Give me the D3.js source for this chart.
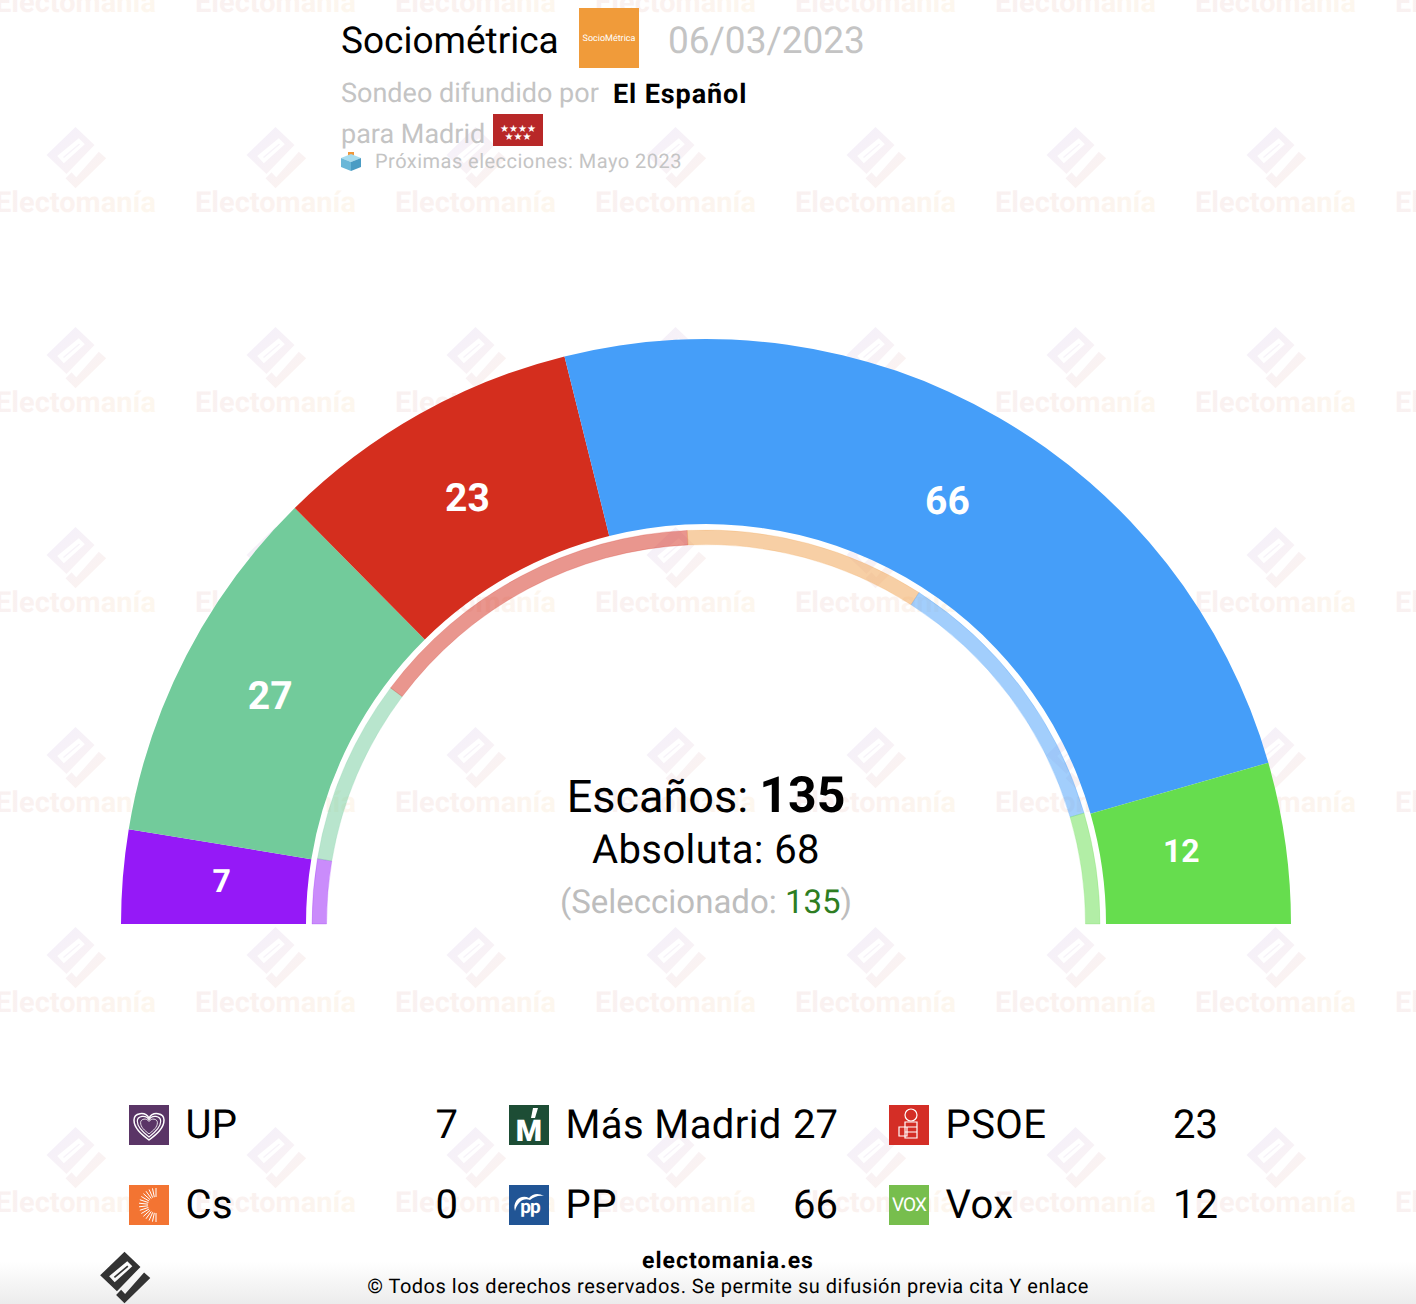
<!DOCTYPE html>
<html lang="es">
<head>
<meta charset="utf-8">
<title>Sociométrica 06/03/2023</title>
<script src="https://cdn.jsdelivr.net/npm/d3@7"></script>
<style>
  html, body { margin: 0; padding: 0; background: #fff; }
  svg { display: block; }
  text { font-family: Roboto, sans-serif; text-rendering: geometricPrecision; }
</style>
</head>
<body>
<div id="chart"></div>
<script>
// Seats in the poll (Cs gets none, so it only shows in the legend)
const parties = ["UP", "Más Madrid", "PSOE", "Cs", "PP", "Vox"];
const seats = [7, 27, 23, 0, 66, 12];
// Previous result, drawn in the thin inner ring
const prevSeats = [7, 20, 37, 26, 30, 12];
const partyColors = ["#9519f7", "#72cb9b", "#d42e1e", "#f0a04b", "#459ef9", "#66dd4e"];

// Legend reads left to right, row by row
const legendNames = ["UP", "Más Madrid", "PSOE", "Cs", "PP", "Vox"];
const legendValues = [7, 27, 23, 0, 66, 12];
const legendColors = ["#5a3566", "#1d4d35", "#d42e26", "#f37432", "#215595", "#77be4d"];

const total = 135;
const absolute = 68;
const selected = 135;

const width = 1416;
const height = 1304;
const cx = 706;
const cy = 924;

const svg = d3.select("#chart").append("svg")
    .attr("width", width)
    .attr("height", height)
    .attr("viewBox", `0 0 ${width} ${height}`);

const defs = svg.append("defs");

function addGradient(id, stops, x1, y1, x2, y2) {
  const g = defs.append("linearGradient")
      .attr("id", id)
      .attr("gradientUnits", "userSpaceOnUse")
      .attr("x1", x1).attr("y1", y1).attr("x2", x2).attr("y2", y2);
  stops.forEach((c, i) => g.append("stop")
      .attr("offset", i / (stops.length - 1))
      .attr("stop-color", c));
}
addGradient("wmIcon", ["#f4f0fa", "#f8f2f6", "#fcf3ee"], -25, -25, 25, 30);
addGradient("wmText", ["#f9f1f1", "#fbf2ef", "#fdf7ee"], -80, 0, 80, 0);
addGradient("bottomFade", ["#ffffff", "#ececec"], 0, 1262, 0, 1304);

// The Electomanía mark, used for the watermark and the footer logo
const markPath = "M0,-30L19,-12L-9,17L-29,-2Z"
  + "M3.3,-18.7L-18.3,-1L-11.7,6.3L9.3,-12.7Z";
const markTail = "M23.3,-5.3L30.7,1.3L0,31.3L-10,21.3L-4,15.3L0.7,20.3Z";
const markSlit = "M4,-13L-12,0.5";

const xRepeat = d3.range(75.5, 1500, 200);
const yRepeat = d3.range(-43, 1300, 200);

const watermark = svg.append("g").attr("class", "watermark");
yRepeat.forEach(y => xRepeat.forEach(x => {
  const w = watermark.append("g").attr("transform", `translate(${x},${y})`);
  w.append("path").attr("d", markPath).attr("fill", "url(#wmIcon)").attr("fill-rule", "evenodd");
  w.append("path").attr("d", markTail).attr("fill", "url(#wmIcon)");
  w.append("path").attr("d", markSlit).attr("stroke", "#f7f3f9").attr("stroke-width", 1.5);
  w.append("text")
      .attr("y", 55)
      .attr("text-anchor", "middle")
      .attr("font-size", 29)
      .attr("font-weight", 700)
      .attr("fill", "url(#wmText)")
      .text("Electomanía");
}));

svg.append("rect")
    .attr("y", 1262).attr("width", width).attr("height", 42)
    .attr("fill", "url(#bottomFade)");

// Hemicycle
const pie = d3.pie().sort(null).startAngle(-Math.PI / 2).endAngle(Math.PI / 2);
const outerArc = d3.arc().innerRadius(400).outerRadius(585);
const ringArc = d3.arc().innerRadius(379.5).outerRadius(394);
const labelArc = d3.arc().innerRadius(485).outerRadius(485);

const chart = svg.append("g").attr("transform", `translate(${cx},${cy})`);

chart.selectAll("path.seat")
  .data(pie(seats))
  .join("path")
    .attr("class", "seat")
    .attr("d", outerArc)
    .attr("fill", (d, i) => partyColors[i]);

chart.selectAll("path.prev")
  .data(pie(prevSeats))
  .join("path")
    .attr("class", "prev")
    .attr("d", ringArc)
    .attr("fill", (d, i) => partyColors[i])
    .attr("fill-opacity", 0.5)
    .attr("stroke", (d, i) => partyColors[i])
    .attr("stroke-opacity", 0.3)
    .attr("stroke-width", 0.75);

// The two mid-sized labels sit a little off the centroid in the original
const labelShift = d => (d.value === 27 || d.value === 12) ? [-5, -2] : [-1, 0];

chart.selectAll("text.seat-label")
  .data(pie(seats).filter(d => d.value > 0))
  .join("text")
    .attr("class", "seat-label")
    .attr("x", d => labelArc.centroid(d)[0] + labelShift(d)[0])
    .attr("y", d => labelArc.centroid(d)[1] - 4 + labelShift(d)[1])
    .attr("dy", "0.36em")
    .attr("text-anchor", "middle")
    .attr("font-weight", 700)
    .attr("font-size", d => d.value < 20 ? 32 : 39)
    .attr("fill", "#fff")
    .text(d => d.value);

// Centre totals
const centre = svg.append("g").attr("text-anchor", "middle");
const line1 = centre.append("text").attr("x", cx).attr("y", 812).attr("font-size", 45).attr("fill", "#000");
line1.append("tspan").text("Escaños: ");
line1.append("tspan").attr("font-weight", 700).attr("font-size", 50).text(total);
centre.append("text").attr("x", cx).attr("y", 862.5).attr("font-size", 40).attr("letter-spacing", 0.4).attr("fill", "#000")
    .text(`Absoluta: ${absolute}`);
const line3 = centre.append("text").attr("x", cx).attr("y", 913).attr("font-size", 33).attr("fill", "#bdbdbd");
line3.append("tspan").text("(Seleccionado: ");
line3.append("tspan").attr("fill", "#2e7d22").text(selected);
line3.append("tspan").text(")");

// Header
const head = svg.append("g");
head.append("text").attr("x", 341).attr("y", 53).attr("font-size", 37).attr("fill", "#000").text("Sociométrica");
head.append("rect").attr("x", 579).attr("y", 8).attr("width", 60).attr("height", 60).attr("fill", "#f09b3a");
head.append("text").attr("x", 609).attr("y", 41).attr("text-anchor", "middle").attr("font-size", 9)
    .attr("fill", "#fff").text("SocioMétrica");
head.append("text").attr("x", 668).attr("y", 53).attr("font-size", 37).attr("fill", "#c4c4c4").text("06/03/2023");
head.append("text").attr("x", 341).attr("y", 102).attr("font-size", 27).attr("fill", "#c4c4c4").text("Sondeo difundido por");
head.append("text").attr("x", 613).attr("y", 103).attr("font-size", 27).attr("font-weight", 700).attr("letter-spacing", 0.9).attr("fill", "#000").text("El Español");
head.append("text").attr("x", 341).attr("y", 143).attr("font-size", 27).attr("fill", "#c4c4c4").text("para Madrid");
head.append("rect").attr("x", 493).attr("y", 114).attr("width", 50).attr("height", 32).attr("fill", "#b82828");
head.append("text").attr("x", 518).attr("y", 132).attr("text-anchor", "middle").attr("font-size", 10).attr("fill", "#fff").text("★★★★");
head.append("text").attr("x", 518).attr("y", 140).attr("text-anchor", "middle").attr("font-size", 10).attr("fill", "#fff").text("★★★");
head.append("text").attr("x", 375).attr("y", 168).attr("font-size", 20).attr("letter-spacing", 0.47).attr("fill", "#c4c4c4").text("Próximas elecciones: Mayo 2023");

// Little ballot box
const box = head.append("g").attr("transform", "translate(351,161)");
box.append("path").attr("d", "M-3,-9H3V-2H-3Z").attr("fill", "#f0973a");
box.append("path").attr("d", "M-10,-3L0,-7L10,-3L0,1Z").attr("fill", "#a6dcef");
box.append("path").attr("d", "M-10,-3L0,1V10L-10,6Z").attr("fill", "#69b7d8");
box.append("path").attr("d", "M10,-3L0,1V10L10,6Z").attr("fill", "#4a9cc4");

// Party logos, drawn inside a 40x40 box
const icons = {
  "UP": g => {
    [1, 0.78, 0.56].forEach(k => g.append("path")
      .attr("transform", `translate(20,21) scale(${k})`)
      .attr("d", "M0,14C-8,8 -15,2 -15,-6C-15,-13 -4,-15 0,-8C4,-15 15,-13 15,-6C15,2 8,8 0,14Z")
      .attr("fill", "none").attr("stroke", "#fff").attr("stroke-width", 1.5));
  },
  "Cs": g => {
    d3.range(180, 361, 12).forEach(a => {
      const r = a * Math.PI / 180;
      g.append("line")
        .attr("x1", 27 + 8 * Math.sin(r)).attr("y1", 20 - 8 * Math.cos(r))
        .attr("x2", 27 + 17 * Math.sin(r)).attr("y2", 20 - 17 * Math.cos(r))
        .attr("stroke", "#fff").attr("stroke-width", 1);
    });
  },
  "Más Madrid": g => {
    g.append("text").attr("x", 20).attr("y", 36).attr("text-anchor", "middle")
      .attr("font-size", 30).attr("font-weight", 900).attr("fill", "#fff").text("M");
    g.append("path").attr("d", "M24,3L29,3L26,13L22,13Z").attr("fill", "#fff");
  },
  "PP": g => {
    g.append("text").attr("x", 21).attr("y", 28).attr("text-anchor", "middle")
      .attr("font-size", 19).attr("font-weight", 700).attr("letter-spacing", -1).attr("fill", "#fff").text("pp");
    g.append("path").attr("d", "M6,26C3,16 12,9 20,13C24,8 30,8 35,11C29,10 25,12 21,15C15,12 8,17 6,26Z").attr("fill", "#fff");
  },
  "PSOE": g => {
    g.append("circle").attr("cx", 22).attr("cy", 10).attr("r", 6)
      .attr("fill", "none").attr("stroke", "#fff").attr("stroke-width", 1.2);
    g.append("path").attr("d", "M16,17H28V33H16ZM16,22H28M16,27H28M10,22H18V31H10Z")
      .attr("fill", "none").attr("stroke", "#fff").attr("stroke-width", 1.2);
  },
  "Vox": g => {
    g.append("text").attr("x", 20).attr("y", 26).attr("text-anchor", "middle")
      .attr("font-size", 19).attr("letter-spacing", -1).attr("fill", "#fff").text("VOX");
  }
};

// Legend
const legendX = d3.scalePoint().domain([0, 1, 2]).range([129, 889]);
const legendY = d3.scalePoint().domain([0, 1]).range([1105, 1185]);

const legend = svg.selectAll("g.legend")
  .data(legendNames)
  .join("g")
    .attr("class", "legend")
    .attr("transform", (d, i) => `translate(${legendX(i % 3)},${legendY(Math.floor(i / 3))})`);

legend.append("rect")
    .attr("width", 40).attr("height", 40)
    .attr("fill", (d, i) => legendColors[i]);
legend.each(function(d) { icons[d](d3.select(this).append("g")); });
legend.append("text")
    .attr("x", 56.5).attr("y", 33)
    .attr("font-size", 40)
    .attr("letter-spacing", 0.4)
    .attr("fill", "#000")
    .text(d => d);
legend.append("text")
    .attr("x", 329).attr("y", 33)
    .attr("text-anchor", "end")
    .attr("font-size", 40)
    .attr("fill", "#000")
    .text((d, i) => legendValues[i]);

// Footer
const logo = svg.append("g").attr("transform", "translate(124.5,1277) scale(0.84)");
logo.append("path").attr("d", markPath).attr("fill", "#333").attr("fill-rule", "evenodd");
logo.append("path").attr("d", markTail).attr("fill", "#333");
logo.append("path").attr("d", markSlit).attr("stroke", "#333").attr("stroke-width", 2);

svg.append("text").attr("x", 728).attr("y", 1268).attr("text-anchor", "middle")
    .attr("font-size", 23).attr("font-weight", 700).attr("letter-spacing", 1).attr("fill", "#000").text("electomania.es");
svg.append("text").attr("x", 728).attr("y", 1293).attr("text-anchor", "middle")
    .attr("font-size", 20).attr("letter-spacing", 0.5).attr("fill", "#000").text("© Todos los derechos reservados. Se permite su difusión previa cita Y enlace");
</script>
</body>
</html>
